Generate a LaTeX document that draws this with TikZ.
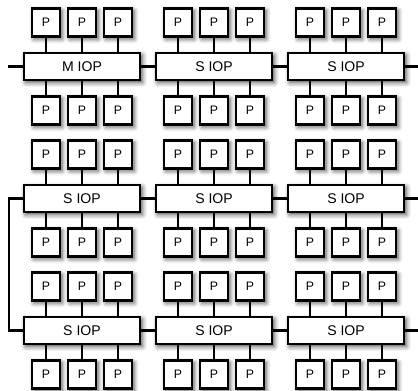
\documentclass[tikz,border=0pt]{standalone}
\usepackage{fontspec}
\setmainfont{Liberation Sans}
\usetikzlibrary{shadows.blur}

\begin{document}
\begin{tikzpicture}[
        x=0.03cm, y=-0.03cm,
        iop/.style={rectangle, draw=black, line width=1.9pt, fill=white, minimum width=3.5cm, minimum height=0.82cm, inner sep=0pt, font=\fontsize{12}{14}\selectfont, blur shadow={shadow xshift=0.06cm, shadow yshift=-0.07cm, shadow blur radius=0.14cm, shadow opacity=70}},
        proc/.style={rectangle, draw=black, line width=1.9pt, fill=white, minimum size=0.84cm, inner sep=0pt, font=\fontsize{10.5}{12}\selectfont, blur shadow={shadow xshift=0.06cm, shadow yshift=-0.07cm, shadow blur radius=0.14cm, shadow opacity=70}},
        link/.style={line width=1.9pt, draw=black}
    ]
        \useasboundingbox (0,0) rectangle (418,390);

        % IOP rows
        \node[iop] (iop11) at (82,66.5) {M IOP};
        \node[iop] (iop12) at (214,66.5) {S IOP};
        \node[iop] (iop13) at (346,66.5) {S IOP};
        \node[iop] (iop21) at (82,198.5) {S IOP};
        \node[iop] (iop22) at (214,198.5) {S IOP};
        \node[iop] (iop23) at (346,198.5) {S IOP};
        \node[iop] (iop31) at (82,330.5) {S IOP};
        \node[iop] (iop32) at (214,330.5) {S IOP};
        \node[iop] (iop33) at (346,330.5) {S IOP};

        \coordinate (in1) at (8,66.5);
        \coordinate (bus) at (9,264);
        \coordinate (out1) at (418,66.5);
        \coordinate (out2) at (418,198.5);
        \coordinate (out3) at (418,330.5);

        % processors
        \foreach \r/\y in {1/66.5, 2/198.5, 3/330.5}
            \foreach \c/\x in {1/82, 2/214, 3/346}
                \foreach \k/\dx in {1/-36, 2/0, 3/36} {
                    \node[proc] (pt\r\c\k) at (\x+\dx,\y-44) {P};
                    \node[proc] (pb\r\c\k) at (\x+\dx,\y+44) {P};
                    \draw[link] (pt\r\c\k) -- (pt\r\c\k |- iop\r\c.north);
                    \draw[link] (pb\r\c\k) -- (pb\r\c\k |- iop\r\c.south);
                }

        % links between IOPs
        \foreach \r in {1,2,3} {
            \draw[link] (iop\r1) -- (iop\r2);
            \draw[link] (iop\r2) -- (iop\r3);
            \draw[link] (iop\r3) -- (out\r);
        }
        \draw[link] (in1) -- (iop11);
        \draw[link] (iop21.west) -| (bus) |- (iop31.west);
\end{tikzpicture}
\end{document}
